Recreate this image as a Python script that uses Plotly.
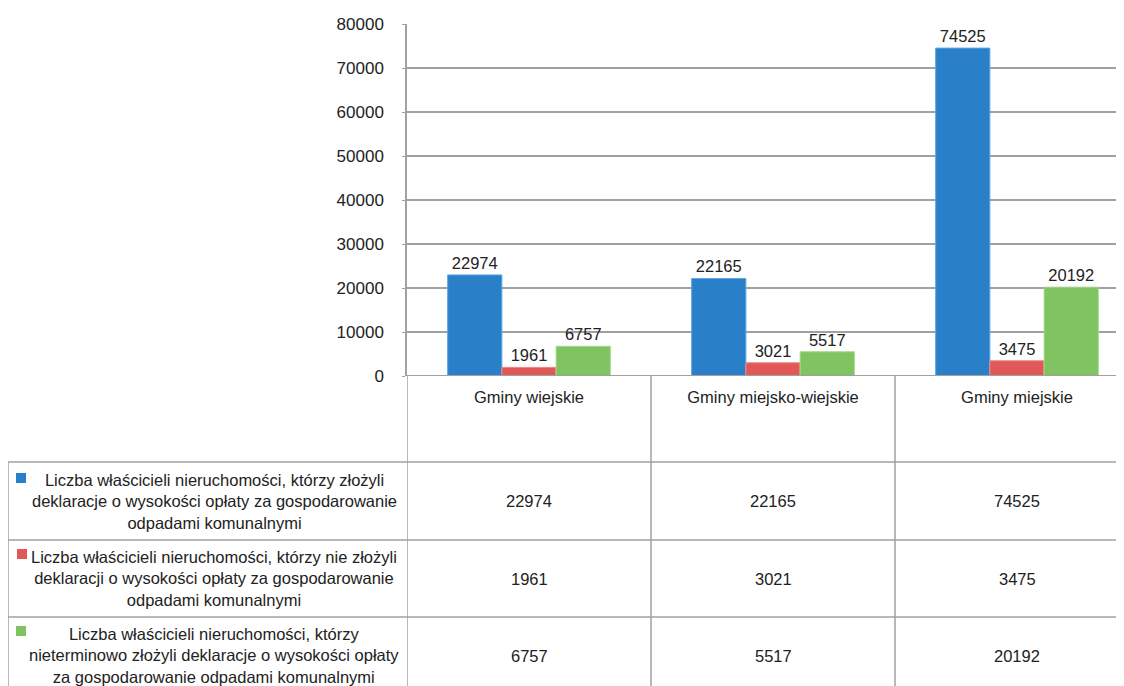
import plotly.graph_objects as go

categories = ["Gminy wiejskie", "Gminy miejsko-wiejskie", "Gminy miejskie"]
series_names = [
    "Liczba właścicieli nieruchomości, którzy złożyli<br>deklaracje o wysokości opłaty za gospodarowanie<br>odpadami komunalnymi",
    "Liczba właścicieli nieruchomości, którzy nie złożyli<br>deklaracji o wysokości opłaty za gospodarowanie<br>odpadami komunalnymi",
    "Liczba właścicieli nieruchomości, którzy<br>nieterminowo złożyli deklaracje o wysokości opłaty<br>za gospodarowanie odpadami komunalnymi",
]
zlozyli = [22974, 22165, 74525]
nie_zlozyli = [1961, 3021, 3475]
nieterminowo = [6757, 5517, 20192]
colors = ["#2A80C8", "#E05858", "#80C462"]
edge_colors = ["#5FA6E3", "#F08A8A", "#A6DA8E"]
y_ticks = [0, 10000, 20000, 30000, 40000, 50000, 60000, 70000, 80000]

# the page body has an 8px margin: the figure occupies screen pixels 8..1124 x 8..686
OFF = 8
W, H = 1124 - OFF, 686 - OFF
FONT = "Liberation Sans, Arial, sans-serif"
GRID = "#A0A0A0"
TXT = "#222222"

def py(p):
    return (H - (p - OFF)) / H

def px(p):
    return (p - OFF) / W

series = [zlozyli, nie_zlozyli, nieterminowo]

fig = go.Figure()
for name, vals, col, ecol in zip(series_names, series, colors, edge_colors):
    fig.add_trace(go.Bar(
        x=categories, y=vals, name=name, marker=dict(color=col, line=dict(width=1, color=ecol)),
        text=[str(v) for v in vals], textposition="outside", cliponaxis=False,
        textfont=dict(family=FONT, size=16.5, color=TXT),
    ))

# plot area right edge at the figure edge; the category width is 244 px
x_right = -0.5 + (W - px(407) * W) / 244.0
fig.update_layout(
    width=W, height=H, margin=dict(l=0, r=0, t=0, b=0, pad=0), autosize=False,
    paper_bgcolor="white", plot_bgcolor="white",
    barmode="group", bargap=0.333, bargroupgap=0,
    showlegend=False,
    font=dict(family=FONT, size=16.5, color=TXT),
    xaxis=dict(domain=[px(407), 1], range=[-0.5, x_right], showgrid=False, automargin=False,
               showline=False, ticks="", tickfont=dict(family=FONT, size=16.5, color=TXT),
               ticklabelstandoff=9, zeroline=False),
    yaxis=dict(domain=[py(376), py(24)], range=[0, 80000], tickvals=y_ticks, automargin=False,
               ticktext=[str(v) for v in y_ticks],
               showgrid=True, gridcolor=GRID, gridwidth=1.5,
               showline=True, linecolor=GRID, linewidth=1.5,
               ticks="outside", ticklen=3, tickcolor=GRID, ticklabelstandoff=15,
               tickfont=dict(family=FONT, size=17, color=TXT), zeroline=False),
)

shapes = []
shapes.append(dict(type="line", xref="paper", yref="y", x0=px(407), x1=1, y0=0, y1=0,
                   line=dict(color=GRID, width=2)))
for b in [-0.5, 0.5, 1.5]:
    shapes.append(dict(type="line", xref="x", yref="paper", x0=b, x1=b, y0=py(376), y1=py(700),
                       line=dict(color=GRID, width=1.5)))
shapes.append(dict(type="line", xref="paper", yref="paper", x0=px(8), x1=px(8), y0=py(462), y1=py(700),
                   line=dict(color=GRID, width=1.5)))
row_lines = [462, 540, 617]
for r in row_lines:
    shapes.append(dict(type="line", xref="paper", yref="paper", x0=px(8), x1=1, y0=py(r), y1=py(r),
                       line=dict(color=GRID, width=1.5)))

row_centers = [501, 578.5, 655.5]
key_tops = [473, 549, 626]
annotations = []
for i, (name, vals, col) in enumerate(zip(series_names, series, colors)):
    kt = key_tops[i]
    kx = 16 if i != 1 else 17
    shapes.append(dict(type="rect", xref="paper", yref="paper", x0=px(kx), x1=px(kx + 10),
                       y0=py(kt + 10), y1=py(kt), fillcolor=col, line=dict(width=0)))
    annotations.append(dict(xref="paper", yref="paper", x=px(214), y=py(row_centers[i]),
                            text=name, showarrow=False, xanchor="center", yanchor="middle",
                            align="center", font=dict(family=FONT, size=16.5, color=TXT)))
    for j, v in enumerate(vals):
        annotations.append(dict(xref="x", yref="paper", x=categories[j], y=py(row_centers[i]),
                                text=str(v), showarrow=False, xanchor="center", yanchor="middle",
                                font=dict(family=FONT, size=16.5, color=TXT)))

fig.update_layout(shapes=shapes, annotations=annotations)
fig.write_html("out.html")
